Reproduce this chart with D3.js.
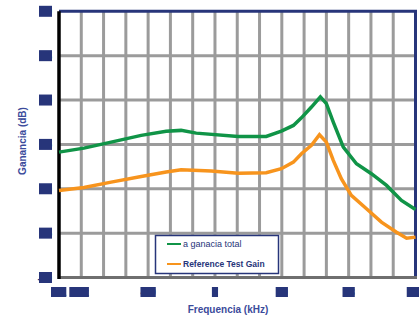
<!DOCTYPE html>
<html>
<head>
<meta charset="utf-8">
<script src="https://cdn.jsdelivr.net/npm/d3@7"></script>
<style>
body { margin: 0; background: #fff; }
text { font-family: "Liberation Sans", Arial, sans-serif; }
</style>
</head>
<body>
<div id="chart"></div>
<script>
// frequency in kHz, gain in dB
var freqTotal = [0, 1.12, 2.34, 3.69, 4.81, 5.48, 6.16, 8.04, 9.3, 9.98, 10.52, 10.88, 11.33, 11.73, 12.0, 12.31, 12.76, 13.35, 14.02, 14.7, 15.37, 16];
var gainTotal = [4.13, 4.58, 5.26, 6.02, 6.47, 6.58, 6.27, 5.9, 5.9, 6.5, 7.14, 7.99, 9.21, 10.36, 9.59, 7.52, 4.7, 2.82, 1.7, 0.38, -1.31, -2.33];
var freqRef = [0, 1.12, 2.34, 3.69, 4.81, 5.48, 6.83, 8.04, 9.3, 9.98, 10.52, 10.88, 11.33, 11.69, 12.0, 12.31, 12.67, 13.12, 13.8, 14.47, 15.15, 15.6, 16];
var gainRef = [-0.19, 0.15, 0.75, 1.39, 1.88, 2.15, 1.99, 1.76, 1.81, 2.26, 3.0, 3.95, 4.89, 6.09, 5.26, 3.2, 1.13, -0.75, -2.25, -3.76, -4.89, -5.57, -5.45];
var yTicks = [20, 15, 10, 5, 0, -5, -10];
var xTicks = [0, 4, 7, 10, 13, 16];
var xTickLabels = ["0.1 kHz", "4.0", "7", "10", "13", "16"];
var seriesNames = ["a ganacia total", "Reference Test Gain"];

var width = 419, height = 318;
var plot_l = 59, plot_r = 415.5, plot_t = 11.3, plot_b = 277.5;
var navy = "#27357a", green = "#109447", orange = "#f7941d", grid = "#9b9b9b";

var svg = d3.select("#chart").append("svg")
    .attr("width", width)
    .attr("height", height);

var x = d3.scaleLinear().domain([0, 16]).range([plot_l, plot_r]);
var y = d3.scaleLinear().domain([-10, 20]).range([plot_b, plot_t]);

// grid
svg.append("g").selectAll("line").data(d3.range(1, 16)).enter().append("line")
    .attr("x1", function(d) { return x(d); })
    .attr("x2", function(d) { return x(d); })
    .attr("y1", plot_t).attr("y2", plot_b)
    .attr("stroke", grid).attr("stroke-width", 3);
svg.append("g").selectAll("line").data(yTicks.slice(1, -1)).enter().append("line")
    .attr("x1", plot_l).attr("x2", plot_r)
    .attr("y1", function(d) { return y(d); })
    .attr("y2", function(d) { return y(d); })
    .attr("stroke", grid).attr("stroke-width", 3);

// frame
svg.append("line").attr("x1", plot_l).attr("x2", plot_r + 1.5).attr("y1", plot_t).attr("y2", plot_t)
    .attr("stroke", navy).attr("stroke-width", 3);
svg.append("line").attr("x1", plot_r).attr("x2", plot_r).attr("y1", plot_t).attr("y2", plot_b)
    .attr("stroke", navy).attr("stroke-width", 3);
svg.append("line").attr("x1", plot_l).attr("x2", plot_r + 1.5).attr("y1", plot_b).attr("y2", plot_b)
    .attr("stroke", "#6f6f6f").attr("stroke-width", 3);
svg.append("line").attr("x1", plot_l).attr("x2", plot_l).attr("y1", plot_t).attr("y2", plot_b + 1.5)
    .attr("stroke", "#000").attr("stroke-width", 3.5);

// lines
var line = d3.line()
    .x(function(d) { return x(d[0]); })
    .y(function(d) { return y(d[1]); });

svg.append("path").datum(d3.zip(freqRef, gainRef))
    .attr("d", line).attr("fill", "none")
    .attr("stroke", orange).attr("stroke-width", 3.5);
svg.append("path").datum(d3.zip(freqTotal, gainTotal))
    .attr("d", line).attr("fill", "none")
    .attr("stroke", green).attr("stroke-width", 3.5);

// tick labels (printed as solid blocks like the reference)
var yl = svg.append("g").selectAll("g").data(yTicks).enter().append("g");
yl.append("rect")
    .attr("x", 39).attr("y", function(d) { return y(d) - 5.5; })
    .attr("width", 13).attr("height", 11).attr("fill", navy);
yl.append("text")
    .attr("x", 52).attr("y", function(d) { return y(d) + 4; })
    .attr("text-anchor", "end").attr("font-size", 10).attr("font-weight", "bold")
    .attr("fill", navy)
    .text(function(d) { return d; });

var xl = svg.append("g").selectAll("g").data(xTicks).enter().append("g");
xl.append("text")
    .attr("x", function(d, i) { return i == 5 ? width : x(d); })
    .attr("y", 296)
    .attr("text-anchor", function(d, i) { return i == 0 ? "start" : (i == 5 ? "end" : "middle"); })
    .attr("dx", function(d, i) { return i == 0 ? -8 : 0; })
    .attr("font-size", 11).attr("font-weight", "bold")
    .attr("fill", navy)
    .attr("xml:space", "preserve")
    .text(function(d, i) { return xTickLabels[i]; });
xl.each(function(d, i) {
    var t = d3.select(this).select("text").node();
    var n = xTickLabels[i].length;
    // one block per word, so "0.1 kHz" shows as two blocks
    var start = 0;
    xTickLabels[i].split(" ").forEach(function(w) {
        var a = t.getExtentOfChar(start), b = t.getExtentOfChar(start + w.length - 1);
        d3.select(t.parentNode).insert("rect", "text")
            .attr("x", a.x).attr("y", 287)
            .attr("width", b.x + b.width - a.x).attr("height", 10)
            .attr("fill", navy);
        start += w.length + 1;
    });
});

// legend
var lg = svg.append("g");
lg.append("rect")
    .attr("x", 155.5).attr("y", 235.5).attr("width", 123).attr("height", 38)
    .attr("fill", "#fff").attr("stroke", navy).attr("stroke-width", 1.5);
[green, orange].forEach(function(c, i) {
    lg.append("line")
        .attr("x1", 167).attr("x2", 181)
        .attr("y1", 244 + i * 20).attr("y2", 244 + i * 20)
        .attr("stroke", c).attr("stroke-width", 2);
    lg.append("text")
        .attr("x", 183).attr("y", 247 + i * 20)
        .attr("font-size", i == 0 ? 9 : 8.5)
        .attr("font-weight", i == 0 ? "normal" : "bold")
        .attr("fill", navy)
        .text(seriesNames[i]);
});

// axis titles
svg.append("text")
    .attr("transform", "translate(26,141) rotate(-90)")
    .attr("text-anchor", "middle").attr("font-size", 10).attr("font-weight", "bold")
    .attr("fill", "#3b4b9b")
    .text("Ganancia (dB)");
svg.append("text")
    .attr("x", 228).attr("y", 313)
    .attr("text-anchor", "middle").attr("font-size", 10).attr("font-weight", "bold")
    .attr("fill", "#3b4b9b")
    .text("Frequencia (kHz)");
</script>
</body>
</html>
